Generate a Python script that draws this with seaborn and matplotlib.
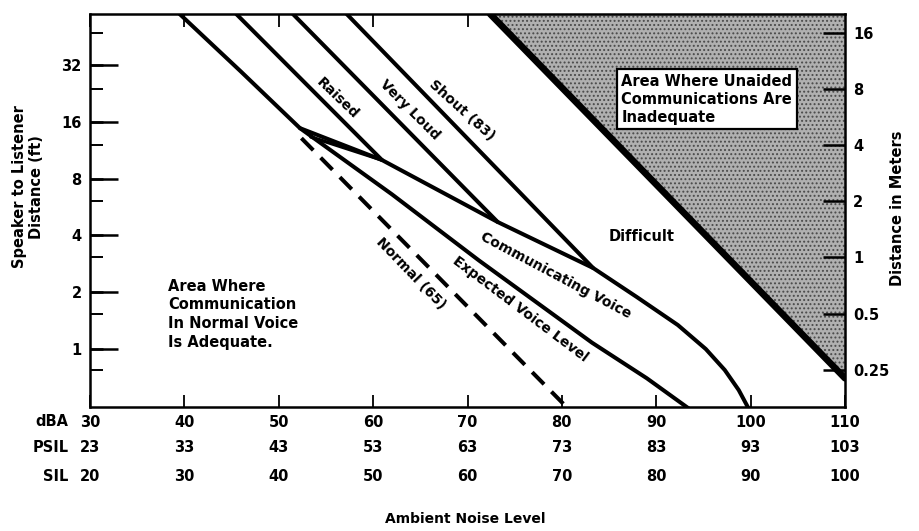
import matplotlib
matplotlib.use("Agg")
import matplotlib.pyplot as plt
import matplotlib.transforms as mtransforms
from matplotlib.ticker import FixedLocator, NullFormatter
import pandas as pd
import seaborn as sns

sns.set_theme(style="white")
plt.rcParams['font.family'] = ['DejaVu Sans']
plt.rcParams['font.weight'] = 'bold'
plt.rcParams['hatch.linewidth'] = 0.9
plt.rcParams['text.color'] = 'black'
plt.rcParams['axes.labelcolor'] = 'black'
plt.rcParams['xtick.color'] = 'black'
plt.rcParams['ytick.color'] = 'black'

# ---------------- data ----------------
dba_ticks = [30, 40, 50, 60, 70, 80, 90, 100, 110]
psil_labels = ["23", "33", "43", "53", "63", "73", "83", "93", "103"]
sil_labels = ["20", "30", "40", "50", "60", "70", "80", "90", "100"]
ft_ticks = [1, 2, 4, 8, 16, 32]
m_ticks = [0.25, 0.5, 1, 2, 4, 8, 16]

expected_dba = [39.5, 46.0, 52.25, 62.0, 71.2, 83.2, 89.0, 93.8]
expected_ft = [59.6, 29.5, 14.8, 6.6, 2.95, 1.08, 0.70, 0.47]

communicating_dba = [52.25, 60.93, 73.2, 83.3, 87.94, 92.29, 95.25, 97.26, 98.74, 99.7, 99.95]
communicating_ft = [14.8, 10.04, 4.71, 2.69, 1.886, 1.34, 1.0, 0.774, 0.606, 0.493, 0.47]

spike_dba = [53.4, 60.93]
spike_ft = [13.3, 10.04]

raised_dba = [45.5, 60.93]
raised_ft = [59.6, 10.04]

veryloud_dba = [51.5, 73.2]
veryloud_ft = [59.6, 4.71]

shout_dba = [57.2, 83.3]
shout_ft = [59.6, 2.69]

normal_dba = [52.4, 80.9]
normal_ft = [13.1, 0.47]

limit_dba = [72.4, 110.0]
limit_ft = [59.6, 0.70]

FT_LIM = (0.493, 59.6)
M_LIM = (0.158, 20.1)

# ---------------- figure ----------------
fig = plt.figure(figsize=(9.19, 5.31), dpi=100)
ax = fig.add_axes([90 / 919, 1 - 407 / 531, 755 / 919, 393 / 531])
ax.set_yscale('log', base=2)
ax.set_xlim(30, 110)
ax.set_ylim(*FT_LIM)
ax.set_facecolor('white')

# stippled "inadequate" region
ax.fill_between(limit_dba, limit_ft, [FT_LIM[1]] * len(limit_ft),
                facecolor='#b0b0b0', edgecolor='#4a4a4a', hatch='....',
                linewidth=0, zorder=1)

def draw(xs, ys, lw=2.9, dashes=None):
    df = pd.DataFrame({'x': xs, 'y': ys})
    sns.lineplot(data=df, x='x', y='y', ax=ax, color='black', lw=lw,
                 sort=False, estimator=None, zorder=3)
    line = ax.lines[-1]
    line.set_solid_capstyle('round')
    line.set_solid_joinstyle('round')
    if dashes is not None:
        line.set_dashes(dashes)
        line.set_dash_capstyle('butt')
    return line

draw(expected_dba, expected_ft)
draw(communicating_dba, communicating_ft)
draw(spike_dba, spike_ft, lw=2.5)
draw(raised_dba, raised_ft)
draw(veryloud_dba, veryloud_ft)
draw(shout_dba, shout_ft)
draw(normal_dba, normal_ft, dashes=(4.2, 2.6))
draw(limit_dba, limit_ft, lw=4.8)

# ---------------- axes styling ----------------
for s in ax.spines.values():
    s.set_color('black')
    s.set_linewidth(1.8)
    s.set_zorder(5)

ax.set_xticks(dba_ticks)
ax.set_xticklabels([str(v) for v in dba_ticks])
ax.tick_params(axis='x', which='major', direction='in', length=9, width=1.3,
               top=True, bottom=True, pad=6, labelsize=10.5, colors='black')

ax.yaxis.set_major_locator(FixedLocator(ft_ticks))
ax.set_yticklabels([str(v) for v in ft_ticks])
ax.yaxis.set_minor_locator(FixedLocator(ft_ticks))
ax.yaxis.set_minor_formatter(NullFormatter())
ax.yaxis.remove_overlapping_locs = False
ax.tick_params(axis='y', which='major', direction='in', length=20, width=1.8,
               left=True, right=False, pad=6, labelsize=10.5, colors='black')
ax.tick_params(axis='y', which='minor', direction='in', length=9, width=1.8,
               left=False, right=True, colors='black')
ax.set_xlabel('')
ax.set_ylabel('')

ax2 = ax.twinx()
ax2.set_yscale('log', base=2)
ax2.set_ylim(*M_LIM)
ax2.yaxis.set_major_locator(FixedLocator(m_ticks))
ax2.set_yticklabels(['0.25', '0.5', '1', '2', '4', '8', '16'])
ax2.yaxis.set_minor_locator(FixedLocator(m_ticks))
ax2.yaxis.set_minor_formatter(NullFormatter())
ax2.yaxis.remove_overlapping_locs = False
ax2.tick_params(axis='y', which='major', direction='in', length=16, width=1.8,
                left=False, right=True, pad=6, labelsize=10.5, colors='black')
ax2.tick_params(axis='y', which='minor', direction='in', length=9, width=1.4,
                left=True, right=False, colors='black')
for s in ax2.spines.values():
    s.set_visible(False)
ax2.set_ylabel('')

# ---------------- extra x rows ----------------
btrans = mtransforms.blended_transform_factory(ax.transData, ax.transAxes)
for x, p, s in zip(dba_ticks, psil_labels, sil_labels):
    ax.text(x, -0.104, p, transform=btrans, ha='center', va='center',
            fontsize=10.5, color='black')
    ax.text(x, -0.178, s, transform=btrans, ha='center', va='center',
            fontsize=10.5, color='black')
for name, yy in [('dBA', -0.038), ('PSIL', -0.104), ('SIL', -0.178)]:
    ax.text(-0.028, yy, name, transform=ax.transAxes, ha='right', va='center',
            fontsize=10.5, color='black')

# ---------------- annotations ----------------
tk = dict(ha='center', va='center', fontsize=10, rotation_mode='anchor',
          zorder=6, color='black')
ax.text(56.2, 21.4, 'Raised', rotation=-44, **tk)
ax.text(63.9, 18.5, 'Very Loud', rotation=-45, **tk)
ax.text(69.4, 18.3, 'Shout (83)', rotation=-42, **tk)
ax.text(79.3, 2.45, 'Communicating Voice', rotation=-28, **tk)
ax.text(75.6, 1.62, 'Expected Voice Level', rotation=-37, **tk)
ax.text(64.0, 2.5, 'Normal (65)', rotation=-46, **tk)
ax.text(88.5, 3.97, 'Difficult', ha='center', va='center', fontsize=10.5,
        zorder=6, color='black')

ax.text(38.3, 1.53, 'Area Where\nCommunication\nIn Normal Voice\nIs Adequate.',
        ha='left', va='center', fontsize=10.5, linespacing=1.3, zorder=6,
        color='black')

ax.text(86.3, 21.1, 'Area Where Unaided\nCommunications Are\nInadequate',
        ha='left', va='center', fontsize=10.5, linespacing=1.25, zorder=6,
        color='black',
        bbox=dict(boxstyle='square,pad=0.3', fc='white', ec='black', lw=1.6))

fig.text(28 / 919, 1 - 187 / 531, 'Speaker to Listener\nDistance (ft)',
         rotation=90, ha='center', va='center', fontsize=10.5, linespacing=1.2,
         color='black')
fig.text(897 / 919, 1 - 208 / 531, 'Distance in Meters', rotation=90,
         ha='center', va='center', fontsize=10.5, color='black')
fig.text(465 / 919, 1 - 519 / 531, 'Ambient Noise Level', ha='center',
         va='center', fontsize=10, color='black')

fig.savefig('out.png', dpi=100, facecolor='white')
